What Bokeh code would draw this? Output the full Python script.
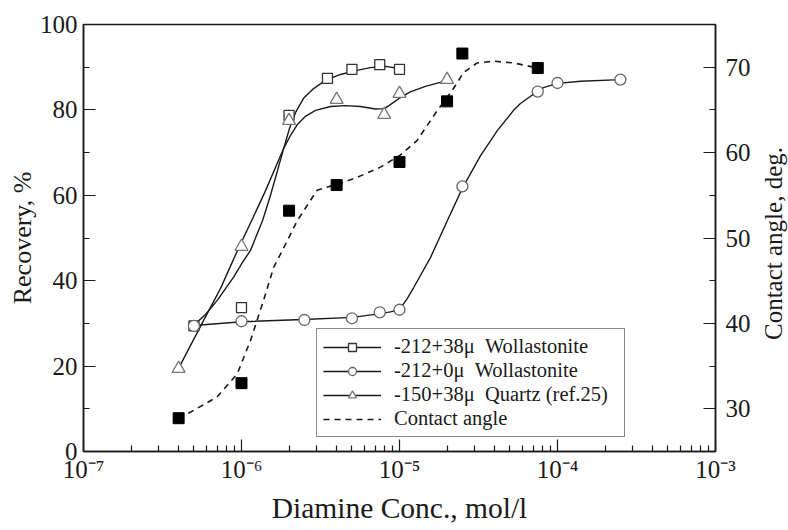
import math
from bokeh.plotting import figure
from bokeh.layouts import row
from bokeh.models import (Range1d, LinearAxis, FixedTicker, CustomJSTickFormatter,
                          Legend, LegendItem, Label)
from bokeh.embed import file_html
from bokeh.resources import INLINE

# ---------------- data ----------------
# -212+38u Wollastonite (open squares), recovery %
sq_x = [5.0e-7, 1.0e-6, 2.0e-6, 3.5e-6, 5.0e-6, 7.5e-6, 1.0e-5]
sq_y = [29.4, 33.7, 78.7, 87.4, 89.5, 90.6, 89.5]
sq_curve_x = [4.97e-7, 5.92e-7, 7.02e-7, 8.89e-7, 1.015e-6, 1.14e-6, 1.36e-6, 1.526e-6,
              1.69e-6, 1.85e-6, 2.01e-6, 2.2e-6, 2.47e-6, 2.86e-6, 3.4e-6, 4.23e-6,
              5.27e-6, 6.55e-6, 8.15e-6, 1.0e-5]
sq_curve_y = [29.5, 32.1, 35.4, 40.8, 44.3, 47.1, 54.1, 60.0,
              65.8, 71.0, 75.6, 79.4, 82.7, 85.0, 86.9, 88.3,
              89.2, 89.9, 90.2, 89.7]

# -212+0u Wollastonite (open circles), recovery %
ci_x = [5.0e-7, 1.0e-6, 2.5e-6, 5.0e-6, 7.5e-6, 1.0e-5, 2.5e-5, 7.5e-5, 1.0e-4, 2.5e-4]
ci_y = [29.4, 30.5, 30.8, 31.2, 32.6, 33.2, 62.1, 84.3, 86.3, 87.1]
ci_curve_x = [4.97e-7, 1.01e-6, 2.47e-6, 5.05e-6, 7.58e-6, 8.77e-6, 1.0e-5, 1.119e-5,
              1.23e-5, 1.57e-5, 2.01e-5, 2.51e-5, 3.26e-5, 4.17e-5, 5.27e-5, 5.83e-5,
              6.75e-5, 8.15e-5, 1.0e-4, 1.4e-4, 2.51e-4]
ci_curve_y = [29.5, 30.4, 30.9, 31.4, 32.3, 32.7, 33.3, 35.8,
              38.4, 45.4, 54.1, 61.8, 69.3, 75.2, 79.9, 81.5,
              83.2, 85.2, 86.2, 86.7, 87.1]

# -150+38u Quartz (ref.25) (open triangles), recovery %
tr_x = [4.0e-7, 1.0e-6, 2.0e-6, 4.0e-6, 8.0e-6, 1.0e-5, 2.0e-5]
tr_y = [19.4, 48.0, 77.5, 82.4, 78.9, 83.8, 87.1]
tr_curve_x = [3.99e-7, 5.5e-7, 7.37e-7, 9.44e-7, 1.16e-6, 1.42e-6, 1.85e-6, 2.04e-6,
              2.26e-6, 2.54e-6, 2.94e-6, 3.66e-6, 4.55e-6, 5.66e-6, 7.05e-6, 8.04e-6,
              9.03e-6, 1.015e-5, 1.17e-5, 1.46e-5, 2.01e-5]
tr_curve_y = [19.4, 29.3, 38.2, 47.1, 54.1, 61.1, 71.0, 74.0,
              76.6, 78.5, 79.9, 80.8, 81.0, 80.8, 80.2, 80.3,
              81.6, 82.9, 84.2, 85.5, 86.9]

# Contact angle (filled squares, right axis), deg.
ang_x = [4.0e-7, 1.0e-6, 2.0e-6, 4.0e-6, 1.0e-5, 2.0e-5, 2.5e-5, 7.5e-5]
ang_y = [28.9, 33.0, 53.2, 56.2, 58.9, 66.0, 71.6, 69.9]
ang_curve_x = [3.99e-7, 4.75e-7, 7.02e-7, 9.4e-7, 1.14e-6, 1.38e-6, 1.6e-6, 1.81e-6,
               2.25e-6, 3.01e-6, 4.03e-6, 5.4e-6, 7.58e-6, 1.01e-5, 1.29e-5, 1.73e-5,
               2.16e-5, 2.55e-5, 3.1e-5, 3.96e-5, 5.28e-5, 7.08e-5]
ang_curve_y = [28.9, 29.6, 31.4, 34.1, 38.0, 42.7, 46.6, 48.5,
               52.0, 55.6, 56.3, 57.1, 58.3, 59.7, 61.4, 64.9,
               67.3, 69.4, 70.5, 70.7, 70.5, 70.0]

x_major = [1e-7, 1e-6, 1e-5, 1e-4, 1e-3]
x_minor = [m * d for d in [1e-7, 1e-6, 1e-5, 1e-4] for m in range(2, 10)]
left_major = [0, 20, 40, 60, 80, 100]
left_minor = [10, 30, 50, 70, 90]
right_major = [30, 40, 50, 60, 70]
right_minor = [35, 45, 55, 65]

labels = ["-212+38\u03bc\u00a0 Wollastonite",
          "-212+0\u03bc\u00a0 Wollastonite",
          "-150+38\u03bc\u00a0 Quartz (ref.25)",
          "Contact angle"]
right_title = "Contact angle, deg."

FONT = "Liberation Serif"
INK = "#1a1a1a"

p = figure(width=760, height=530, x_axis_type="log",
           x_range=Range1d(1e-7, 1e-3), y_range=Range1d(0, 100),
           output_backend="svg", toolbar_location=None,
           min_border_left=83, min_border_right=45, min_border_top=24,
           min_border_bottom=79)
p.extra_y_ranges = {"angle": Range1d(25, 75)}
p.grid.visible = False
p.outline_line_color = INK
p.outline_line_width = 1.5
p.background_fill_color = "white"
p.border_fill_color = "white"

right_axis = LinearAxis(y_range_name="angle")
p.add_layout(right_axis, "right")

sup_code = """
const sup = {'-':'\u207b','0':'\u2070','1':'\u00b9','2':'\u00b2','3':'\u00b3','4':'\u2074',
             '5':'\u2075','6':'\u2076','7':'\u2077','8':'\u2078','9':'\u2079'};
const e = Math.round(Math.log10(tick));
return '10' + String(e).split('').map(c => sup[c]).join('');
"""

xa = p.xaxis[0]
xa.ticker = FixedTicker(ticks=x_major, minor_ticks=x_minor)
xa.formatter = CustomJSTickFormatter(code=sup_code)
xa.axis_label = "Diamine Conc., mol/l"

ya = p.yaxis[0]
ya.ticker = FixedTicker(ticks=left_major, minor_ticks=left_minor)
ya.axis_label = "Recovery, %"

right_axis.ticker = FixedTicker(ticks=right_major, minor_ticks=right_minor)

for ax in [xa, ya, right_axis]:
    ax.axis_line_color = INK
    ax.axis_line_width = 1.5
    ax.major_tick_line_color = INK
    ax.minor_tick_line_color = INK
    ax.major_tick_line_width = 1.2
    ax.minor_tick_line_width = 1.2
    ax.major_tick_in = 12
    ax.major_tick_out = 0
    ax.minor_tick_in = 6
    ax.minor_tick_out = 0
    ax.major_label_text_font = FONT
    ax.major_label_text_font_size = "25px"
    ax.major_label_text_color = INK
    ax.axis_label_text_font = FONT
    ax.axis_label_text_font_style = "normal"
    ax.axis_label_text_color = INK
    ax.axis_label_text_font_size = "26px"

xa.axis_label_text_font_size = "29.5px"
xa.major_label_standoff = 4
xa.axis_label_standoff = 6
ya.major_label_standoff = 6
ya.axis_label_standoff = 0
right_axis.major_label_standoff = 10

# curves
r_sq_line = p.line(sq_curve_x, sq_curve_y, line_color=INK, line_width=1.4)
r_ci_line = p.line(ci_curve_x, ci_curve_y, line_color=INK, line_width=1.4)
r_tr_line = p.line(tr_curve_x, tr_curve_y, line_color=INK, line_width=1.4)
r_ang_line = p.line(ang_curve_x, ang_curve_y, line_color=INK, line_width=1.6,
                    line_dash="6 5", y_range_name="angle")

# markers
r_sq = p.scatter(sq_x, sq_y, marker="square", size=10, fill_color="white",
                 line_color="#333333", line_width=1.3)
r_ci = p.scatter(ci_x, ci_y, marker="circle", size=11, fill_color="white",
                 line_color="#666666", line_width=1.3)
r_tr = p.scatter(tr_x, tr_y, marker="triangle", size=13, fill_color="white",
                 line_color="#777777", line_width=1.3)
r_ang = p.scatter(ang_x, ang_y, marker="square", size=11, fill_color="black",
                  line_color="black", y_range_name="angle")

legend = Legend(items=[
    LegendItem(label=labels[0], renderers=[r_sq_line, r_sq]),
    LegendItem(label=labels[1], renderers=[r_ci_line, r_ci]),
    LegendItem(label=labels[2], renderers=[r_tr_line, r_tr]),
    LegendItem(label=labels[3], renderers=[r_ang_line]),
], location=(233, 14))
legend.label_text_font = FONT
legend.label_text_font_size = "20.5px"
legend.label_text_color = INK
legend.glyph_width = 58
legend.glyph_height = 20
legend.label_height = 20
legend.label_width = 224
legend.spacing = 1
legend.padding = 6
legend.margin = 0
legend.label_standoff = 13
legend.border_line_color = INK
legend.border_line_width = 1.5
legend.background_fill_alpha = 1.0
p.add_layout(legend, "center")

# narrow strip carrying the right-hand axis title (reads bottom to top);
# its frame is aligned with the main frame (y 24..451 on the page)
p2 = figure(width=28, height=530, output_backend="svg", toolbar_location=None,
            x_range=Range1d(0, 1), y_range=Range1d(0, 1),
            min_border_left=0, min_border_right=0, min_border_top=0,
            min_border_bottom=0)
p2.axis.visible = False
p2.grid.visible = False
p2.outline_line_color = None
p2.background_fill_color = "white"
p2.border_fill_color = "white"
p2.add_layout(Label(x=13, y=451 - 243, x_units="screen", y_units="screen",
                    text=right_title, angle=math.pi / 2,
                    text_align="center", text_baseline="middle",
                    text_font=FONT, text_font_size="25px", text_color=INK))

layout = row(p, p2, spacing=0)
open("out.html", "w").write(file_html(layout, INLINE))
